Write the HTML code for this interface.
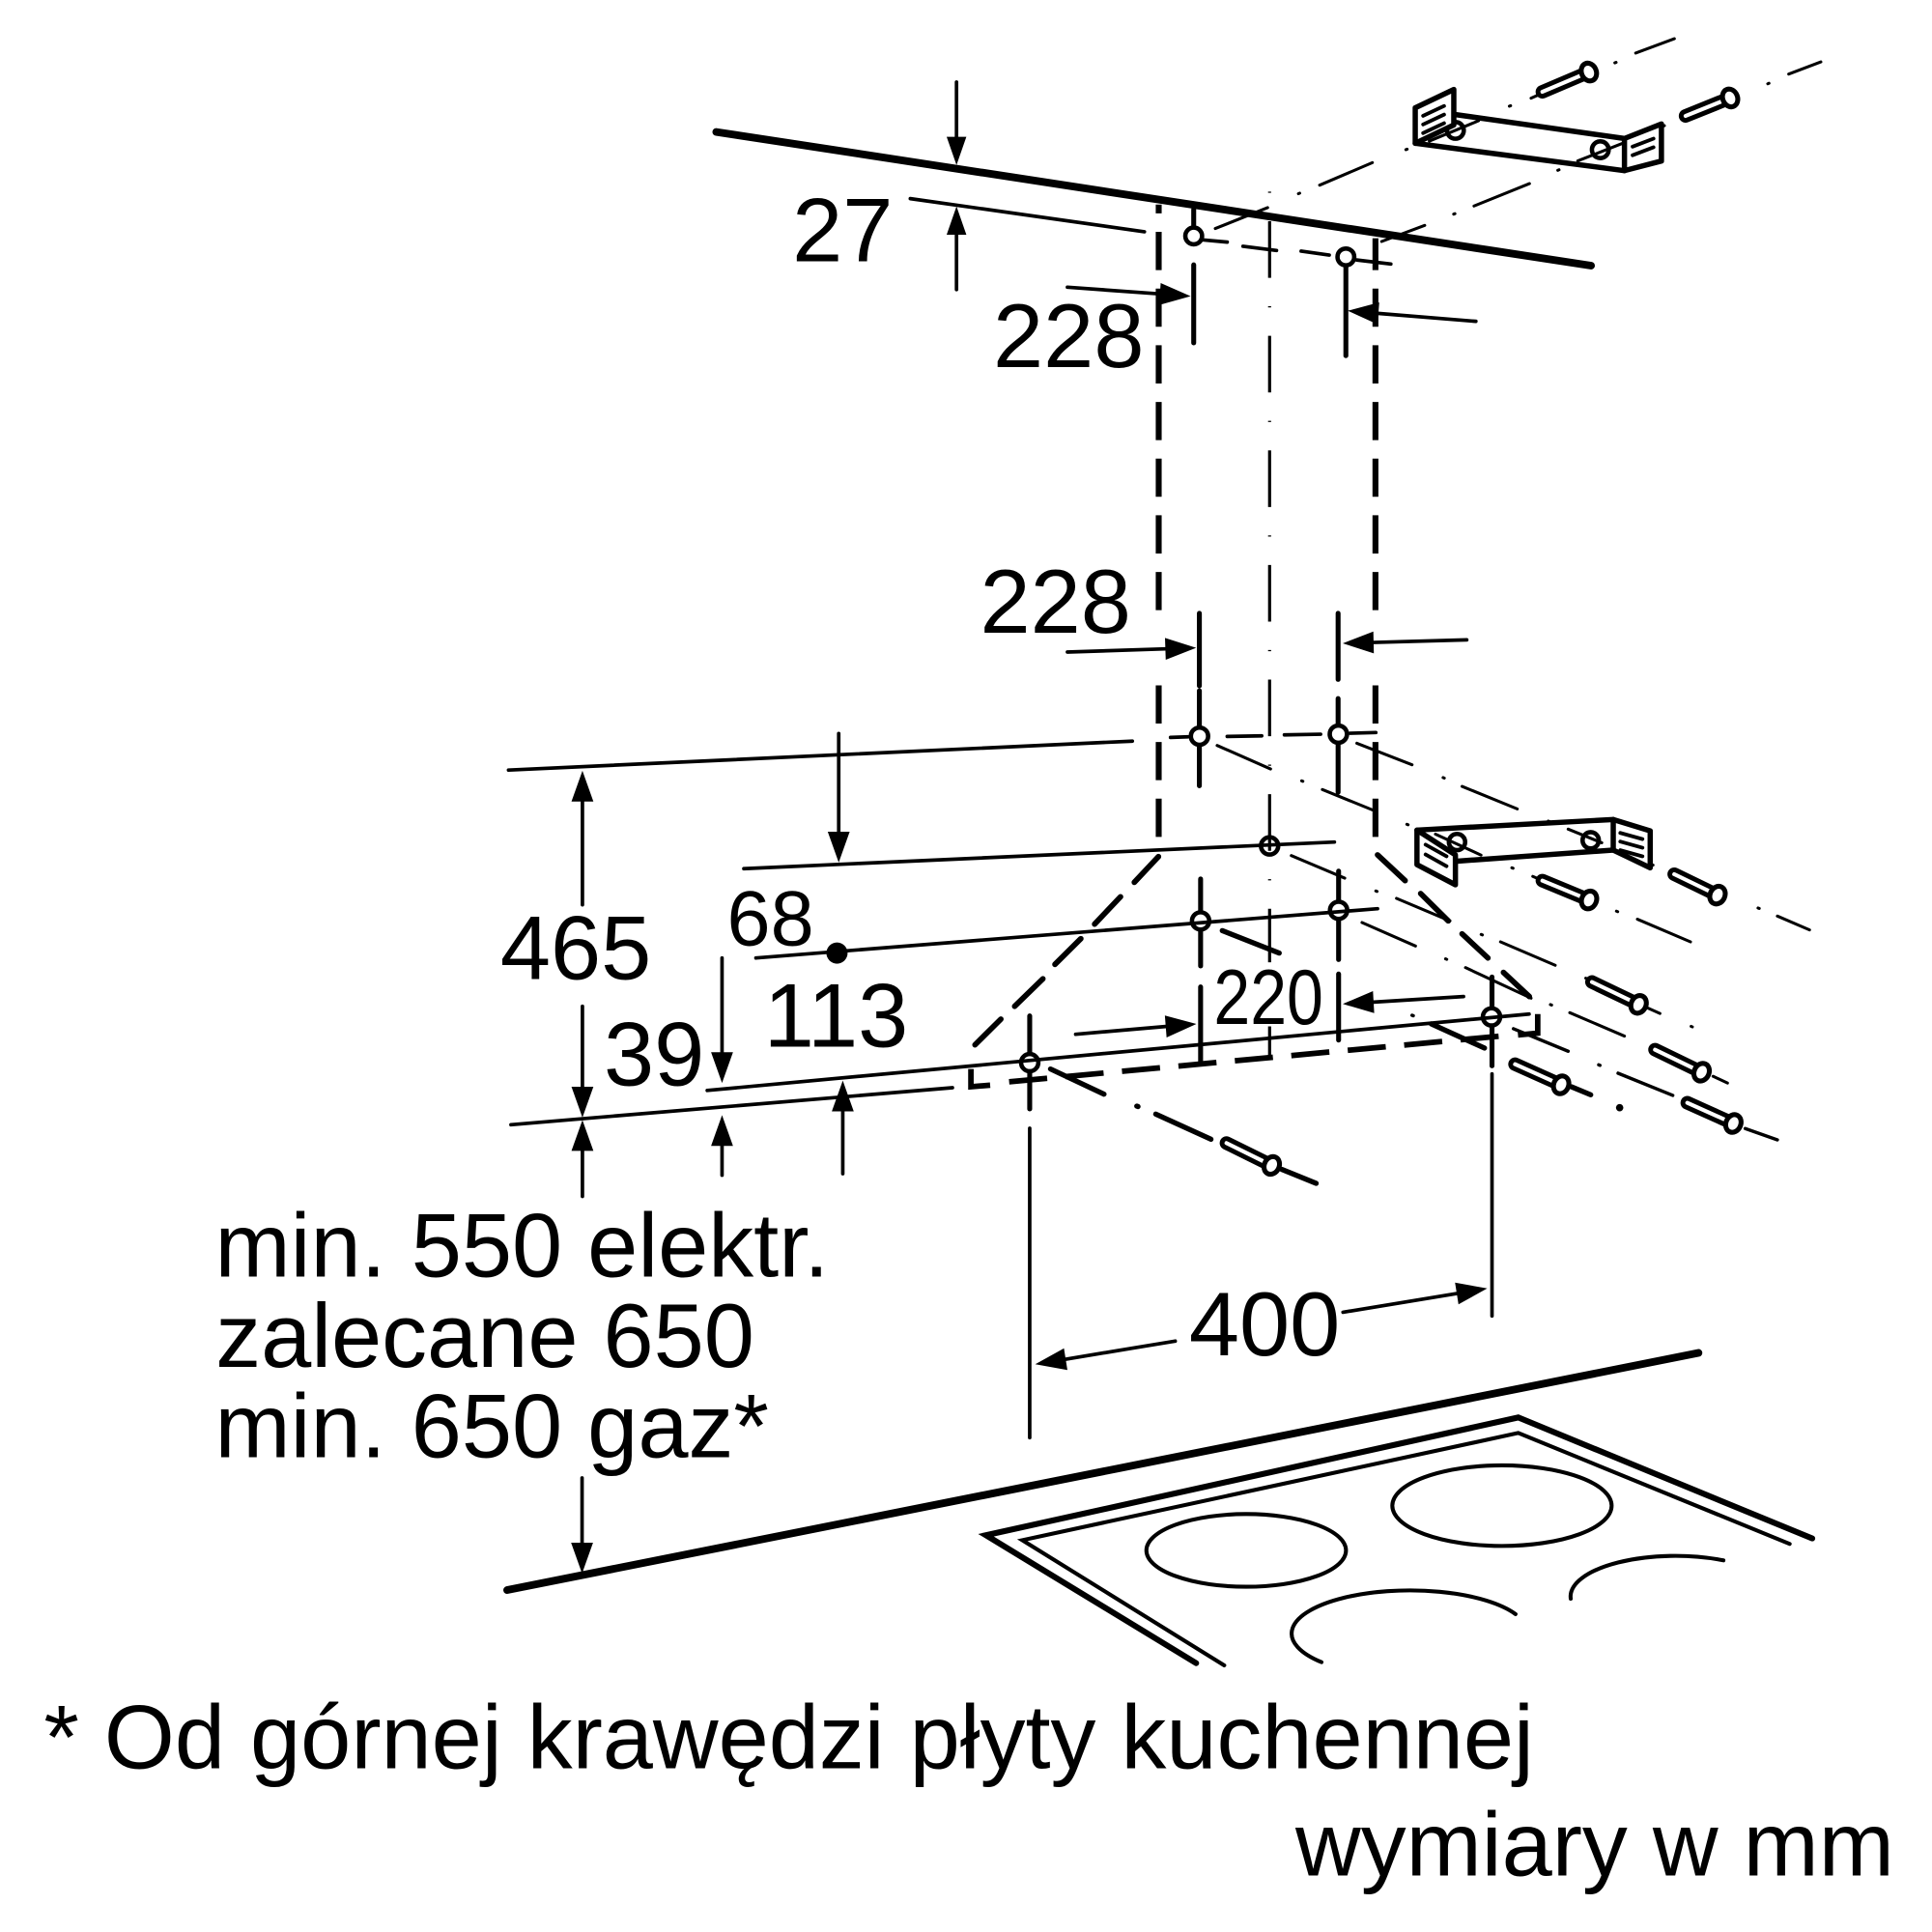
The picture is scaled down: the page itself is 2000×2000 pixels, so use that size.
<!DOCTYPE html>
<html>
<head>
<meta charset="utf-8">
<style>
html,body{margin:0;padding:0;background:#fff;}
svg{display:block;}
.t{font-family:"Liberation Sans",Arial,sans-serif;font-size:73.5px;fill:#000;}
.s{font-family:"Liberation Sans",Arial,sans-serif;font-size:63.5px;fill:#000;}
</style>
</head>
<body>
<svg xmlns="http://www.w3.org/2000/svg" width="2000" height="2000" viewBox="0 0 1568 1568">
<rect x="0" y="0" width="1568" height="1568" fill="#fff"/>

<!-- ===== Ceiling line ===== -->
<line x1="581.3" y1="107.1" x2="1291.3" y2="215.6" stroke="#000" stroke-width="6.2" stroke-linecap="round"/>

<!-- ===== Chimney dashed lines ===== -->
<g stroke="#000" stroke-width="4.8" fill="none">
<line x1="940.4" y1="166" x2="940.4" y2="680" stroke-dasharray="31 15" stroke-dashoffset="23.8"/>
<line x1="1116.3" y1="193.4" x2="1116.3" y2="680" stroke-dasharray="31 15" stroke-dashoffset="5.2"/>
</g>
<rect x="934" y="498" width="13" height="54" fill="#fff"/>
<rect x="1110" y="498" width="13" height="54" fill="#fff"/>

<!-- center dash-dot line -->
<line x1="1030.4" y1="155.5" x2="1030.4" y2="858" stroke="#000" stroke-width="2.5" stroke-dasharray="1 23 46 23" stroke-linecap="butt"/>

<!-- ===== Top "27" dimension ===== -->
<g stroke="#000" stroke-width="2.9" stroke-linecap="round" fill="none">
<line x1="738.8" y1="161.2" x2="928.8" y2="188.1"/>
<line x1="976" y1="194.7" x2="996" y2="196.5"/>
<line x1="1008.8" y1="199.9" x2="1036" y2="203.3"/>
<line x1="1056" y1="203.8" x2="1078.8" y2="207"/>
<line x1="1101" y1="211" x2="1128.8" y2="214.3"/>
<line x1="776.3" y1="66.6" x2="776.3" y2="113"/>
<line x1="776.3" y1="189" x2="776.3" y2="235"/>
</g>
<polygon points="776.3,134 768.3,111 784.3,111" fill="#000"/>
<polygon points="776.3,167.5 768.3,190.5 784.3,190.5" fill="#000"/>
<text class="t" x="643" y="212">27</text>

<!-- top depth lines L1, L2 -->
<g stroke="#000" stroke-width="2.4" stroke-linecap="round" fill="none">
<line x1="986.3" y1="185.5" x2="1028.8" y2="168.5"/>
<line x1="1053.8" y1="157.2" x2="1054.8" y2="156.8"/>
<line x1="1071" y1="150.3" x2="1113.8" y2="132"/>
<line x1="1141" y1="121.5" x2="1142" y2="121.1"/>
<line x1="1160" y1="114.5" x2="1200" y2="98"/>
<line x1="1225" y1="86.2" x2="1226" y2="85.8"/>
<line x1="1242.6" y1="79.7" x2="1252" y2="75.5"/>
<line x1="1310.6" y1="51" x2="1311.6" y2="50.6"/>
<line x1="1327.5" y1="43.1" x2="1358.9" y2="31.4"/>

<line x1="1121.3" y1="196" x2="1156.3" y2="182.9"/>
<line x1="1179.8" y1="173.8" x2="1180.8" y2="173.4"/>
<line x1="1196.3" y1="167.2" x2="1241.3" y2="149"/>
<line x1="1264.3" y1="138.2" x2="1265.3" y2="137.8"/>
<line x1="1280.5" y1="130.6" x2="1317" y2="116.3"/>
<line x1="1349.8" y1="102.4" x2="1350.8" y2="102"/>
<line x1="1434.7" y1="68" x2="1435.7" y2="67.6"/>
<line x1="1451.7" y1="60.1" x2="1477.8" y2="50.2"/>
</g>

<!-- top vertical ext lines -->
<g stroke="#000" stroke-width="4" stroke-linecap="round">
<line x1="968.8" y1="170" x2="968.8" y2="184"/>
<line x1="968.8" y1="215" x2="968.8" y2="278.3"/>
<line x1="1092.3" y1="216" x2="1092.3" y2="288.7"/>
</g>
<g stroke="#000" stroke-width="3.6" fill="none">
<circle cx="968.8" cy="191.5" r="6.8"/>
<circle cx="1092.3" cy="208.5" r="6.8"/>
</g>

<!-- top 228 arrows -->
<g stroke="#000" stroke-width="2.9" stroke-linecap="round">
<line x1="866.3" y1="233.1" x2="942" y2="238.6"/>
<line x1="1197.8" y1="260.8" x2="1118" y2="254.3"/>
</g>
<polygon points="966.3,240.4 940.8,247.5 942.0,229.7" fill="#000"/>
<polygon points="1093.8,252.2 1119.4,245.4 1118.0,263.2" fill="#000"/>
<text class="t" x="806" y="298">228</text>

<!-- ===== Top bracket ===== -->
<g stroke="#000" stroke-width="4.3" stroke-linejoin="round" stroke-linecap="round" fill="#fff">
<line x1="1179.9" y1="92.8" x2="1318.4" y2="112.4"/>
<line x1="1148.6" y1="116.3" x2="1318.4" y2="138.5"/>
<circle cx="1181.2" cy="105.8" r="6.8" fill="none" stroke-width="3.6"/>
<circle cx="1298.8" cy="121.5" r="6.8" fill="none" stroke-width="3.6"/>
<polygon points="1148.6,87.5 1179.9,72.6 1179.9,101.4 1148.6,116.3"/>
<polygon points="1318.4,112.4 1348.4,100.6 1348.4,130.7 1318.4,138.5"/>
</g>
<g stroke="#000" stroke-width="3" stroke-linecap="round">
<line x1="1155" y1="94" x2="1172" y2="86"/>
<line x1="1155" y1="101" x2="1172" y2="93"/>
<line x1="1155" y1="108" x2="1172" y2="100"/>
<line x1="1325" y1="119" x2="1342" y2="112.5"/>
<line x1="1325" y1="126" x2="1342" y2="119.5"/>
</g>

<!-- top screws -->
<g transform="translate(1251.8,74.5) rotate(-23)">
<line x1="0" y1="0" x2="41" y2="0" stroke="#000" stroke-width="11" stroke-linecap="round"/>
<line x1="0" y1="0" x2="38" y2="0" stroke="#fff" stroke-width="3.2" stroke-linecap="round"/>
<ellipse cx="41" cy="0" rx="6" ry="7.4" fill="#fff" stroke="#000" stroke-width="4"/>
</g>
<g transform="translate(1368,94.1) rotate(-22)">
<line x1="0" y1="0" x2="39" y2="0" stroke="#000" stroke-width="11" stroke-linecap="round"/>
<line x1="0" y1="0" x2="36" y2="0" stroke="#fff" stroke-width="3.2" stroke-linecap="round"/>
<ellipse cx="39" cy="0" rx="6" ry="7.4" fill="#fff" stroke="#000" stroke-width="4"/>
</g>

<!-- ===== Middle section ===== -->
<g stroke="#000" stroke-width="2.9" stroke-linecap="round" fill="none">
<line x1="412.7" y1="625" x2="919" y2="601.5"/>
<line x1="950" y1="598.5" x2="964" y2="598"/>
<line x1="996" y1="597.7" x2="1024" y2="597.2"/>
<line x1="1042.4" y1="596.4" x2="1071.8" y2="595.9"/>
<line x1="1095.6" y1="595.1" x2="1116.6" y2="594.5"/>
<line x1="603.7" y1="705" x2="1083" y2="683.4"/>
<line x1="613.5" y1="777.5" x2="1118" y2="737.5"/>
<line x1="574" y1="885" x2="1241" y2="823"/>
<line x1="414.7" y1="912.8" x2="773" y2="882.8"/>
</g>

<!-- depth dash-dot lines (thin) -->
<g stroke="#000" stroke-width="2.4" stroke-linecap="round" fill="none">
<line x1="987.8" y1="605" x2="1031.2" y2="624.1"/>
<line x1="1056.4" y1="633.7" x2="1057.4" y2="634.1"/>
<line x1="1073.2" y1="640.8" x2="1113.8" y2="657.3"/>
<line x1="1141.8" y1="669" x2="1142.8" y2="669.4"/>
<line x1="1165" y1="677" x2="1202" y2="694"/>
<line x1="1227" y1="704.3" x2="1228" y2="704.7"/>
<line x1="1244" y1="711.3" x2="1252" y2="714.7"/>
<line x1="1311.9" y1="739.5" x2="1312.9" y2="739.9"/>
<line x1="1328.9" y1="746" x2="1372" y2="764.4"/>

<line x1="1101.2" y1="603.2" x2="1146" y2="620.7"/>
<line x1="1171.2" y1="631.1" x2="1172.2" y2="631.5"/>
<line x1="1186.6" y1="638.2" x2="1231.4" y2="656.5"/>
<line x1="1256.6" y1="666.4" x2="1257.6" y2="666.8"/>
<line x1="1272.7" y1="672.9" x2="1300" y2="684"/>
<line x1="1340.6" y1="701.7" x2="1341.6" y2="702.1"/>
<line x1="1426.8" y1="736.9" x2="1427.8" y2="737.3"/>
<line x1="1442.5" y1="743.5" x2="1468.6" y2="754.7"/>

<line x1="1048" y1="694.4" x2="1091.4" y2="712.7"/>
<line x1="1116.6" y1="723.1" x2="1117.6" y2="723.5"/>
<line x1="1133.4" y1="729.1" x2="1176.8" y2="747.4"/>
<line x1="1202.1" y1="758.4" x2="1203.1" y2="758.8"/>
<line x1="1217.8" y1="764.4" x2="1262.2" y2="783.4"/>
<line x1="1287" y1="793.9" x2="1288" y2="794.3"/>
<line x1="1336" y1="817.5" x2="1347.2" y2="822.5"/>
<line x1="1372.5" y1="833" x2="1373.5" y2="833.4"/>

<line x1="1105.4" y1="748.7" x2="1148.8" y2="767.8"/>
<line x1="1173.2" y1="778.2" x2="1174.2" y2="778.6"/>
<line x1="1189.4" y1="785.3" x2="1242.6" y2="810.1"/>
<line x1="1258.3" y1="815.3" x2="1259.3" y2="815.7"/>
<line x1="1274" y1="821.9" x2="1318.4" y2="840.9"/>
<line x1="1390.3" y1="873.5" x2="1402" y2="879"/>
</g>
<g stroke="#000" stroke-width="2.7" stroke-linecap="round" fill="none">
<line x1="1228.3" y1="834.9" x2="1272.7" y2="853.2"/>
<line x1="1297.5" y1="864.2" x2="1298.5" y2="864.6"/>
<line x1="1313.2" y1="871" x2="1357.6" y2="889"/>
<line x1="1416.4" y1="915.9" x2="1442.5" y2="925.1"/>
<line x1="1146" y1="824" x2="1147" y2="824.4"/>
</g>
<g stroke="#000" stroke-width="4.2" stroke-linecap="round" fill="none">
<line x1="992" y1="755.3" x2="1038.2" y2="773.5"/>
<line x1="1161.6" y1="831" x2="1204.8" y2="850.6"/>
<line x1="1275.3" y1="882" x2="1291" y2="888.5"/>
<line x1="852.6" y1="867.6" x2="896" y2="888"/>
<line x1="922.6" y1="897.7" x2="923.6" y2="898.1"/>
<line x1="938" y1="904.2" x2="982.8" y2="924.6"/>
<line x1="1040.2" y1="949" x2="1068.2" y2="960.4"/>
</g>
<circle cx="1314.5" cy="899" r="3" fill="#000"/>

<!-- hood thick dashed outline -->
<g stroke="#000" stroke-width="4.5" stroke-linecap="round" fill="none">
<line x1="940.2" y1="695.2" x2="920.6" y2="716.1"/>
<line x1="909.4" y1="727.8" x2="888.4" y2="750"/>
<line x1="877.2" y1="761.8" x2="856.2" y2="782.7"/>
<line x1="846.4" y1="794.4" x2="823.5" y2="816.7"/>
<line x1="812.3" y1="827.1" x2="791.3" y2="848"/>
<line x1="1118" y1="693.8" x2="1140.4" y2="714.7"/>
<line x1="1153" y1="725.2" x2="1175.4" y2="747.4"/>
<line x1="1186.6" y1="757.9" x2="1207.6" y2="777.5"/>
<line x1="1220.2" y1="789.2" x2="1241.2" y2="808.8"/>
<polyline points="788,867.6 788,882 803.6,880.7" stroke-linecap="butt"/>
<polyline points="1232,840 1248,838.5 1248,823" stroke-linecap="butt"/>
</g>
<line x1="819" y1="878" x2="1216.5" y2="841" stroke="#000" stroke-width="4.5" stroke-dasharray="31 15"/>

<!-- middle vertical ext lines -->
<g stroke="#000" stroke-width="4" stroke-linecap="round">
<line x1="973.4" y1="497.8" x2="973.4" y2="556.6"/>
<line x1="973.4" y1="560.6" x2="973.4" y2="589.5"/>
<line x1="973.4" y1="605.5" x2="973.4" y2="637.7"/>
<line x1="1086" y1="497.8" x2="1086" y2="551.4"/>
<line x1="1086" y1="567" x2="1086" y2="588"/>
<line x1="1086" y1="603.5" x2="1086" y2="643"/>
<line x1="974.4" y1="713.4" x2="974.4" y2="739.5"/>
<line x1="974.4" y1="755.5" x2="974.4" y2="784"/>
<line x1="974.4" y1="801" x2="974.4" y2="862.4"/>
<line x1="1086.4" y1="707" x2="1086.4" y2="731"/>
<line x1="1086.4" y1="746.5" x2="1086.4" y2="778.8"/>
<line x1="1086.4" y1="790.5" x2="1086.4" y2="844.1"/>
<line x1="835.7" y1="824.5" x2="835.7" y2="854.5"/>
<line x1="835.7" y1="870" x2="835.7" y2="900"/>
<line x1="1210.9" y1="793" x2="1210.9" y2="817.5"/>
<line x1="1210.9" y1="833" x2="1210.9" y2="865"/>
</g>
<g stroke="#000" stroke-width="2.9" stroke-linecap="round">
<line x1="835.7" y1="915.7" x2="835.7" y2="1166.8"/>
<line x1="1210.9" y1="871.6" x2="1210.9" y2="1068"/>
</g>

<!-- mount point circles -->
<g stroke="#000" stroke-width="3.6" fill="none">
<circle cx="973.5" cy="597.5" r="7"/>
<circle cx="1086.2" cy="595.8" r="7"/>
<circle cx="1030.4" cy="686.5" r="7"/>
<circle cx="974.4" cy="747.4" r="7"/>
<circle cx="1086.4" cy="738.8" r="7"/>
<circle cx="835.7" cy="862.4" r="7"/>
<circle cx="1210.5" cy="825.3" r="7"/>
</g>
<circle cx="679.3" cy="773.5" r="8.6" fill="#000"/>

<!-- middle bracket -->
<g stroke="#000" stroke-width="4.3" stroke-linejoin="round" stroke-linecap="round" fill="#fff">
<line x1="1150" y1="673.7" x2="1309.3" y2="665.1"/>
<line x1="1181.2" y1="699" x2="1309.3" y2="689.9"/>
<circle cx="1182.5" cy="683.4" r="6.6" fill="none" stroke-width="3.6"/>
<circle cx="1291" cy="682" r="6.6" fill="none" stroke-width="3.6"/>
<polygon points="1309.3,665.1 1339.3,674.3 1339.3,704.3 1309.3,689.9"/>
<polygon points="1150,673.7 1181.2,693.8 1181.2,718.1 1150,701.7"/>
</g>
<g stroke="#000" stroke-width="3" stroke-linecap="round">
<line x1="1157" y1="685.5" x2="1174" y2="695"/>
<line x1="1157" y1="693.5" x2="1174" y2="703"/>
<line x1="1315" y1="676" x2="1333" y2="681"/>
<line x1="1315" y1="683" x2="1333" y2="688"/>
<line x1="1315" y1="690" x2="1333" y2="695"/>
</g>

<!-- middle screws -->
<g transform="translate(1251.8,714.7) rotate(22.5)">
<line x1="0" y1="0" x2="41" y2="0" stroke="#000" stroke-width="11" stroke-linecap="round"/>
<line x1="0" y1="0" x2="38" y2="0" stroke="#fff" stroke-width="3.2" stroke-linecap="round"/>
<ellipse cx="41" cy="0" rx="6" ry="7.4" fill="#fff" stroke="#000" stroke-width="4"/>
</g>
<g transform="translate(1358.8,709.5) rotate(25.8)">
<line x1="0" y1="0" x2="39" y2="0" stroke="#000" stroke-width="11" stroke-linecap="round"/>
<line x1="0" y1="0" x2="36" y2="0" stroke="#fff" stroke-width="3.2" stroke-linecap="round"/>
<ellipse cx="39" cy="0" rx="6" ry="7.4" fill="#fff" stroke="#000" stroke-width="4"/>
</g>
<g transform="translate(1292,797) rotate(25.6)">
<line x1="0" y1="0" x2="42" y2="0" stroke="#000" stroke-width="11" stroke-linecap="round"/>
<line x1="0" y1="0" x2="39" y2="0" stroke="#fff" stroke-width="3.2" stroke-linecap="round"/>
<ellipse cx="42" cy="0" rx="6" ry="7.4" fill="#fff" stroke="#000" stroke-width="4"/>
</g>
<g transform="translate(1343.2,851.9) rotate(25.8)">
<line x1="0" y1="0" x2="42" y2="0" stroke="#000" stroke-width="11" stroke-linecap="round"/>
<line x1="0" y1="0" x2="39" y2="0" stroke="#fff" stroke-width="3.2" stroke-linecap="round"/>
<ellipse cx="42" cy="0" rx="6" ry="7.4" fill="#fff" stroke="#000" stroke-width="4"/>
</g>
<g transform="translate(1229.6,863.7) rotate(24.1)">
<line x1="0" y1="0" x2="41" y2="0" stroke="#000" stroke-width="11" stroke-linecap="round"/>
<line x1="0" y1="0" x2="38" y2="0" stroke="#fff" stroke-width="3.2" stroke-linecap="round"/>
<ellipse cx="41" cy="0" rx="6" ry="7.4" fill="#fff" stroke="#000" stroke-width="4"/>
</g>
<g transform="translate(1369.4,895) rotate(24.2)">
<line x1="0" y1="0" x2="41" y2="0" stroke="#000" stroke-width="11" stroke-linecap="round"/>
<line x1="0" y1="0" x2="38" y2="0" stroke="#fff" stroke-width="3.2" stroke-linecap="round"/>
<ellipse cx="41" cy="0" rx="6" ry="7.4" fill="#fff" stroke="#000" stroke-width="4"/>
</g>
<g transform="translate(995.4,927.7) rotate(26.3)">
<line x1="0" y1="0" x2="41" y2="0" stroke="#000" stroke-width="11" stroke-linecap="round"/>
<line x1="0" y1="0" x2="38" y2="0" stroke="#fff" stroke-width="3.2" stroke-linecap="round"/>
<ellipse cx="41" cy="0" rx="6" ry="7.4" fill="#fff" stroke="#000" stroke-width="4"/>
</g>

<!-- ===== Dimension arrows ===== -->
<g stroke="#000" stroke-width="2.9" stroke-linecap="round">
<line x1="866.3" y1="529.2" x2="946" y2="526.6"/>
<line x1="1190.4" y1="519.3" x2="1114.8" y2="521.4"/>
<line x1="472.7" y1="734.3" x2="472.7" y2="650"/>
<line x1="472.7" y1="816.7" x2="472.7" y2="883"/>
<line x1="472.7" y1="971" x2="472.7" y2="933"/>
<line x1="680.7" y1="595.3" x2="680.7" y2="676"/>
<line x1="586" y1="777.5" x2="586" y2="855"/>
<line x1="586" y1="953.8" x2="586" y2="929"/>
<line x1="684" y1="952.6" x2="684" y2="901"/>
<line x1="873" y1="839.4" x2="946" y2="833.1"/>
<line x1="1187.8" y1="808.8" x2="1114.8" y2="813.3"/>
<line x1="953.8" y1="1088.4" x2="865" y2="1103.1"/>
<line x1="1090" y1="1065" x2="1182.3" y2="1049.8"/>
<line x1="472.4" y1="1199.5" x2="472.4" y2="1253"/>
</g>
<g fill="#000">
<polygon points="970.8,525.8 946.1,535.5 945.5,517.7"/>
<polygon points="1089.8,522.1 1115.0,530.3 1114.6,512.5"/>
<polygon points="472.7,625.5 463.8,650.5 481.6,650.5"/>
<polygon points="472.7,907 463.8,882 481.6,882"/>
<polygon points="472.7,909 463.8,934 481.6,934"/>
<polygon points="680.7,700 671.8,675 689.6,675"/>
<polygon points="586,879 577.1,854 594.9,854"/>
<polygon points="586,905 577.1,930 594.9,930"/>
<polygon points="684,877 675.1,902 692.9,902"/>
<polygon points="971,831 946.8,842 945.4,824.2"/>
<polygon points="1089.8,814.8 1115.3,822.2 1114.3,804.4"/>
<polygon points="840.2,1107.2 866.3,1111.9 863.5,1094.3"/>
<polygon points="1207,1045.7 1183.7,1058.6 1180.9,1041"/>
<polygon points="472.4,1277 463.5,1252 481.3,1252"/>
</g>

<!-- labels -->
<text class="t" x="918" y="513.5" text-anchor="end">228</text>
<text class="t" x="406" y="794.5">465</text>
<text class="s" x="590" y="767">68</text>
<text class="t" x="620" y="849.3">113</text>
<text class="t" x="490" y="880.7">39</text>
<rect x="984" y="781" width="91" height="52" fill="#fff"/>
<text class="s" x="985" y="831" textLength="89" lengthAdjust="spacingAndGlyphs">220</text>
<text class="t" x="965" y="1100">400</text>

<text class="t" x="174.5" y="1036.2">min. 550 elektr.</text>
<text class="t" x="175" y="1109.4">zalecane 650</text>
<text class="t" x="174.5" y="1182.5">min. 650 gaz*</text>

<!-- ===== Countertop & hob ===== -->
<line x1="411.6" y1="1290.5" x2="1378.5" y2="1098" stroke="#000" stroke-width="6.2" stroke-linecap="round"/>
<polyline points="970.8,1349.8 800.2,1246 1232.2,1150.4 1470.8,1248.6" stroke="#000" stroke-width="4.8" fill="none" stroke-linecap="round" stroke-linejoin="miter"/>
<polyline points="993.6,1351.6 829.7,1250 1232.2,1163 1452.5,1253" stroke="#000" stroke-width="3.2" fill="none" stroke-linecap="round" stroke-linejoin="miter"/>
<g stroke="#000" stroke-width="3.2" fill="none" stroke-linecap="round">
<ellipse cx="1011.4" cy="1258.3" rx="81" ry="29.5"/>
<ellipse cx="1219" cy="1222" rx="89" ry="32.7"/>
<path d="M 1072.5 1349 A 96 35 0 1 1 1230 1310"/>
<path d="M 1274.8 1297.5 A 85 33 0 0 1 1398.7 1266.4"/>
</g>

<!-- footer texts -->
<text class="t" x="35.6" y="1435.3">* Od górnej krawędzi płyty kuchennej</text>
<text class="t" x="1051.4" y="1522.3">wymiary w mm</text>
</svg>
</body>
</html>
